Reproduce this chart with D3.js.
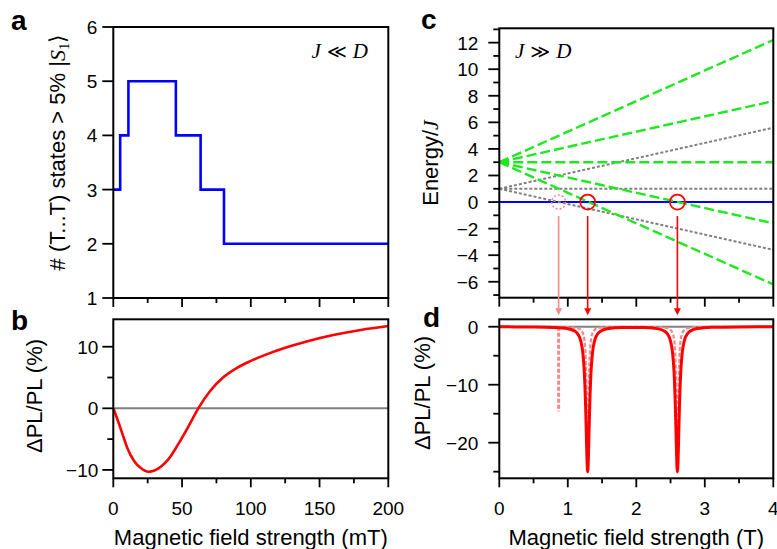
<!DOCTYPE html>
<html>
<head>
<meta charset="utf-8">
<script src="https://cdn.jsdelivr.net/npm/d3@7"></script>
<style>
  body { margin: 0; background: #fff; }
  svg { display: block; font-family: "Liberation Sans", Arial, sans-serif; }
</style>
</head>
<body>
<svg id="fig" width="777" height="549"></svg>
<script>
// ---------- data ----------
// (a) number of (T...T) states carrying > 5% singlet character, step changes vs field (mT)
const countField = [0, 5, 11, 45.5, 63.5, 80.5, 200];
const countStates = [3, 4, 5, 4, 3, 2, 2];

// (b) low-field magneto-PL (%) vs field (mT)
const lowField = [0, 3.5, 7, 10.5, 15, 20, 25.5, 30, 35, 40, 47, 54.5, 61.8, 70, 80, 90, 100, 110, 125, 140, 160, 180, 200];
const lowPL    = [0, -2.1, -4.4, -6.6, -8.5, -9.7, -10.3, -10.1, -9.4, -8.3, -5.9, -3.0, 0, 2.7, 5.03, 6.57, 7.69, 8.63, 9.83, 10.82, 11.89, 12.72, 13.35];

// (c) energy levels / J at 0 T and 4 T
const levelField = [0, 4];
const quintetLevels = [[3, 12.2], [3, 7.6], [3, 3], [3, -1.6], [3, -6.2]];
const tripletLevels = [[1, 5.6], [1, 1], [1, -3.6]];
const singletLevel = [0, 0];
const crossingField = [1.29, 2.6];   // quintet–singlet crossings
const weakCrossing = [0.866];        // triplet–singlet crossing

// (d) high-field magneto-PL (%) vs field (T)
const highField = [0, 0.5, 0.8, 1.0, 1.1, 1.15, 1.19, 1.22, 1.24, 1.26, 1.27, 1.28, 1.29, 1.30, 1.31, 1.32, 1.34, 1.36, 1.39, 1.44,
                   1.5, 1.6, 1.8, 1.95, 2.1, 2.3, 2.4, 2.45, 2.5, 2.53, 2.55, 2.57, 2.58, 2.59, 2.6, 2.61, 2.62, 2.63, 2.65, 2.67,
                   2.7, 2.75, 2.8, 2.9, 3.1, 3.5, 4.0];
const highPL = [-0.02, -0.05, -0.12, -0.33, -0.74, -1.33, -2.47, -4.56, -7.60, -13.70, -18.29, -22.91, -25.0, -22.91, -18.29, -13.70, -7.60, -4.57, -2.47, -1.17,
                -0.63, -0.31, -0.15, -0.13, -0.15, -0.33, -0.69, -1.17, -2.47, -4.57, -7.61, -13.71, -18.30, -22.92, -25.0, -22.92, -18.30, -13.71, -7.60, -4.56,
                -2.47, -1.17, -0.67, -0.31, -0.11, -0.04, -0.02];
const narrowField = [0, 0.8, 1.0, 1.1, 1.15, 1.19, 1.22, 1.24, 1.25, 1.26, 1.27, 1.275, 1.28, 1.285, 1.29, 1.295, 1.30, 1.305, 1.31, 1.32,
                     1.33, 1.34, 1.36, 1.39, 1.43, 1.48, 1.58, 1.9, 2.31, 2.41, 2.46, 2.5, 2.53, 2.55, 2.56, 2.57, 2.58, 2.585, 2.59, 2.595,
                     2.6, 2.605, 2.61, 2.615, 2.62, 2.63, 2.64, 2.65, 2.67, 2.7, 2.74, 2.79, 2.89, 3.2, 4.0];
const narrowPL = [0, -0.03, -0.07, -0.16, -0.28, -0.55, -1.10, -2.06, -3.08, -5.0, -9.0, -12.5, -17.3, -22.5, -25, -22.5, -17.3, -12.5, -9.0, -5.0,
                  -3.08, -2.06, -1.10, -0.55, -0.28, -0.16, -0.07, -0.03, -0.07, -0.16, -0.28, -0.55, -1.10, -2.06, -3.08, -5.0, -9.0, -12.5, -17.3, -22.5,
                  -25, -22.5, -17.3, -12.5, -9.0, -5.0, -3.08, -2.06, -1.10, -0.55, -0.28, -0.16, -0.07, -0.01, 0];
const spikeField = [0.866, 0.866];
const spikePL = [0, -14.6];

// tick values
const ticksA = { xMajor: [0, 50, 100, 150, 200], xMinor: [25, 75, 125, 175], yMajor: [1, 2, 3, 4, 5, 6], yMinor: [] };
const ticksB = { xMajor: [0, 50, 100, 150, 200], xMinor: [25, 75, 125, 175], yMajor: [-10, 0, 10], yMinor: [-5, 5] };
const ticksC = { xMajor: [0, 1, 2, 3, 4], xMinor: [0.5, 1.5, 2.5, 3.5], yMajor: [-6, -4, -2, 0, 2, 4, 6, 8, 10, 12], yMinor: [-7, -5, -3, -1, 1, 3, 5, 7, 9, 11, 13] };
const ticksD = { xMajor: [0, 1, 2, 3, 4], xMinor: [0.5, 1.5, 2.5, 3.5], yMajor: [-20, -10, 0], yMinor: [-25, -15, -5] };

// ---------- layout ----------
const svg = d3.select("#fig");
const PINK = "#f38a8a", RED = "#ff0000", GREEN = "#1ee81e", GREY = "#808080", BLUE = "#0000ff";

const boxA = { l: 113.3, r: 388.3, t: 27, b: 298 };
const boxB = { l: 113.3, r: 388.3, t: 319.3, b: 478.3 };
const boxC = { l: 499.3, r: 773.3, t: 28.3, b: 297.7 };
const boxD = { l: 499.3, r: 773.3, t: 319.3, b: 478.3 };

const xA = d3.scaleLinear([0, 200], [boxA.l, boxA.r]);
const yA = d3.scaleLinear([1, 6], [boxA.b, boxA.t]);
const xB = d3.scaleLinear([0, 200], [boxB.l, boxB.r]);
const yB = d3.scaleLinear([-11.36, 14.45], [boxB.b, boxB.t]);
const xC = d3.scaleLinear([0, 4], [boxC.l, boxC.r]);
const yC = d3.scaleLinear([-7.2, 13.08], [boxC.b, boxC.t]);
const xD = d3.scaleLinear([0, 4], [boxD.l, boxD.r]);
const yD = d3.scaleLinear([-26.14, 1.28], [boxD.b, boxD.t]);

const defs = svg.append("defs");
function clipFor(id, box) {
  defs.append("clipPath").attr("id", id).append("rect")
    .attr("x", box.l).attr("y", box.t).attr("width", box.r - box.l).attr("height", box.b - box.t);
  return svg.append("g").attr("clip-path", `url(#${id})`);
}

function drawAxes(box, x, y, t, opts) {
  const g = svg.append("g");
  const tk = (x1, y1, x2, y2) => g.append("line").attr("x1", x1).attr("y1", y1).attr("x2", x2).attr("y2", y2)
    .attr("stroke", "#000").attr("stroke-width", 1.8);
  t.xMajor.forEach(v => tk(x(v), box.b, x(v), box.b + 9));
  t.xMinor.forEach(v => tk(x(v), box.b, x(v), box.b + 5));
  t.yMajor.forEach(v => tk(box.l - 11, y(v), box.l, y(v)));
  t.yMinor.forEach(v => tk(box.l - 6, y(v), box.l, y(v)));
  if (opts.xLabels) {
    t.xMajor.forEach(v => g.append("text").attr("x", x(v)).attr("y", 515)
      .attr("text-anchor", "middle").attr("font-size", 19).text(d3.format("d")(v)));
  }
  t.yMajor.forEach(v => g.append("text").attr("x", box.l - opts.yPad).attr("y", y(v) + 7)
    .attr("text-anchor", "end").attr("font-size", 19).text(d3.format("d")(v)));
  g.append("rect").attr("x", box.l).attr("y", box.t).attr("width", box.r - box.l).attr("height", box.b - box.t)
    .attr("fill", "none").attr("stroke", "#000").attr("stroke-width", 2);
}

const pairs = (xs, ys) => xs.map((v, i) => [v, ys[i]]);

// ---------- (a) ----------
const gA = clipFor("clipA", boxA);
gA.append("path")
  .datum(pairs(countField, countStates))
  .attr("d", d3.line().x(d => xA(d[0])).y(d => yA(d[1])).curve(d3.curveStepAfter))
  .attr("fill", "none").attr("stroke", BLUE).attr("stroke-width", 2.6);
drawAxes(boxA, xA, yA, ticksA, { xLabels: false, yPad: 16 });

// ---------- (b) ----------
const gB = clipFor("clipB", boxB);
gB.append("line").attr("x1", boxB.l).attr("x2", boxB.r).attr("y1", yB(0)).attr("y2", yB(0))
  .attr("stroke", GREY).attr("stroke-width", 2);
gB.append("path")
  .datum(pairs(lowField, lowPL))
  .attr("d", d3.line().x(d => xB(d[0])).y(d => yB(d[1])).curve(d3.curveMonotoneX))
  .attr("fill", "none").attr("stroke", RED).attr("stroke-width", 2.6);
drawAxes(boxB, xB, yB, ticksB, { xLabels: true, yPad: 15 });

// ---------- (c) ----------
const gC = clipFor("clipC", boxC);
const levelLine = d3.line().x((d, i) => xC(levelField[i])).y(d => yC(d));
gC.append("path").datum(singletLevel).attr("d", levelLine)
  .attr("fill", "none").attr("stroke", BLUE).attr("stroke-width", 2);
tripletLevels.forEach(lv => gC.append("path").datum(lv).attr("d", levelLine)
  .attr("fill", "none").attr("stroke", GREY).attr("stroke-width", 2).attr("stroke-dasharray", "3,2"));
quintetLevels.forEach(lv => gC.append("path").datum(lv).attr("d", levelLine)
  .attr("fill", "none").attr("stroke", GREEN).attr("stroke-width", 2.4).attr("stroke-dasharray", "10,4"));
gC.selectAll("circle.weak").data(weakCrossing).join("circle")
  .attr("cx", d => xC(d)).attr("cy", yC(0)).attr("r", 7)
  .attr("fill", "none").attr("stroke", PINK).attr("stroke-width", 1.5).attr("stroke-dasharray", "2,2");
gC.selectAll("circle.strong").data(crossingField).join("circle")
  .attr("cx", d => xC(d)).attr("cy", yC(0)).attr("r", 7.5)
  .attr("fill", "none").attr("stroke", RED).attr("stroke-width", 1.8);
drawAxes(boxC, xC, yC, ticksC, { xLabels: false, yPad: 21 });

// ---------- (d) ----------
const gD = clipFor("clipD", boxD);
gD.append("line").attr("x1", boxD.l).attr("x2", boxD.r).attr("y1", yD(0)).attr("y2", yD(0))
  .attr("stroke", GREY).attr("stroke-width", 2);
const lineD = d3.line().x(d => xD(d[0])).y(d => yD(d[1]));
gD.append("path").datum(pairs(narrowField, narrowPL)).attr("d", lineD.curve(d3.curveMonotoneX))
  .attr("fill", "none").attr("stroke", PINK).attr("stroke-width", 2.2).attr("stroke-dasharray", "4,2");
gD.append("path").datum(pairs(spikeField, spikePL)).attr("d", d3.line().x(d => xD(d[0])).y(d => yD(d[1])))
  .attr("fill", "none").attr("stroke", PINK).attr("stroke-width", 3).attr("stroke-dasharray", "4,2");
gD.append("path").datum(pairs(highField, highPL)).attr("d", d3.line().x(d => xD(d[0])).y(d => yD(d[1])).curve(d3.curveMonotoneX))
  .attr("fill", "none").attr("stroke", RED).attr("stroke-width", 3);
drawAxes(boxD, xD, yD, ticksD, { xLabels: true, yPad: 21 });

// ---------- arrows from crossings (c) to resonances (d) ----------
const arrows = weakCrossing.map(v => ({ v, c: PINK })).concat(crossingField.map(v => ({ v, c: RED })));
const yStart = yC(0) + 14, yTip = boxD.t - 4;
arrows.forEach(a => {
  const x = xC(a.v);
  svg.append("line").attr("x1", x).attr("x2", x).attr("y1", yStart).attr("y2", yTip - 5)
    .attr("stroke", a.c).attr("stroke-width", 1.6);
  svg.append("path").attr("d", `M${x - 3.5},${yTip - 7}L${x + 3.5},${yTip - 7}L${x},${yTip}Z`).attr("fill", a.c);
});

// ---------- annotations ----------
function panelLetter(txt, x, y) {
  svg.append("text").attr("x", x).attr("y", y).attr("font-size", 28).attr("font-weight", "bold").text(txt);
}
panelLetter("a", 11, 30);
panelLetter("b", 11, 330);
panelLetter("c", 421, 29);
panelLetter("d", 423, 327);

function regime(x, y, anchor, rel) {
  const t = svg.append("text").attr("x", x).attr("y", y).attr("text-anchor", anchor).attr("font-size", 21)
    .attr("font-family", '"Liberation Serif", "DejaVu Serif", serif');
  t.append("tspan").attr("font-style", "italic").text("J");
  t.append("tspan").attr("font-family", '"DejaVu Sans", sans-serif').attr("font-size", 19).text(" " + rel + " ");
  t.append("tspan").attr("font-style", "italic").text("D");
}
regime(368, 58, "end", "\u226A");
regime(515, 58, "start", "\u226B");

// axis titles
function xTitle(txt, cx) {
  svg.append("text").attr("x", cx).attr("y", 545).attr("text-anchor", "middle").attr("font-size", 22).text(txt);
}
xTitle("Magnetic field strength (mT)", (boxB.l + boxB.r) / 2);
xTitle("Magnetic field strength (T)", (boxD.l + boxD.r) / 2);

function yTitle(x, cy) {
  return svg.append("text").attr("transform", `translate(${x},${cy}) rotate(-90)`)
    .attr("text-anchor", "middle").attr("font-size", 22);
}
const tA = yTitle(65, 152);
tA.append("tspan").text("# (T...T) states > 5% |");
tA.append("tspan").attr("font-family", '"Liberation Serif", serif').attr("font-style", "italic").text("S");
tA.append("tspan").attr("font-family", '"Liberation Serif", serif').attr("font-size", 15).attr("dy", 4).text("1");
tA.append("tspan").attr("dy", -4).attr("font-family", '"DejaVu Sans", sans-serif').attr("font-weight", "300").text("\u27E9");

yTitle(42, 396).text("\u0394PL/PL (%)");
yTitle(430, 393).text("\u0394PL/PL (%)");
const tC = yTitle(438, 163);
tC.append("tspan").text("Energy/");
tC.append("tspan").attr("font-family", '"Liberation Serif", serif').attr("font-style", "italic").text("J");
</script>
</body>
</html>
